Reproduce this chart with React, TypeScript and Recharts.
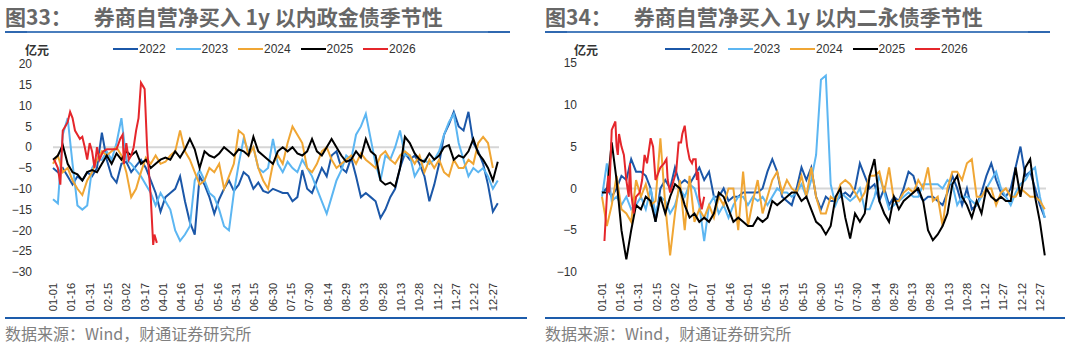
import React from "react";
import { LineChart, Line, XAxis, YAxis, ReferenceLine } from "recharts";

// x axis: day of year, label every 15 days
const tickLabels = [
  "01-01", "01-16", "01-31", "02-15", "03-02", "03-17", "04-01", "04-16", "05-01",
  "05-16", "05-31", "06-15", "06-30", "07-15", "07-30", "08-14", "08-29", "09-13",
  "09-28", "10-13", "10-28", "11-12", "11-27", "12-12", "12-27",
];
const tickDays = tickLabels.map((_, i) => i * 15);

// sample days for 2022-2025 (every 4 days)
const gridDays = Array.from({ length: 92 }, (_, i) => i * 4);

const years = ["2022", "2023", "2024", "2025", "2026"];
const colors: Record<string, string> = {
  "2022": "#1b57a8",
  "2023": "#5cb6f2",
  "2024": "#f0a634",
  "2025": "#000000",
  "2026": "#e5262b",
};

// ---- 图33 政金债 (亿元)
const zjz2022 = [
  -5, -6, -5, -7, -9, -7, -8, -6, -7, -5,
  3.5, -3, -7, -8.5, -4, -3.5, -6, -4.5, -3, -5,
  -8, -11, -15.5, -12, -11, -10, -7, -13, -18, -21,
  -7, -9, -12, -16, -12.5, -10, -8, -10.5, -9, -6,
  -7, -10, -8.5, -10.5, -11, -10, -10.5, -11, -11, -13,
  -12, -5.5, -10, -11, -8, -5, -7, -2, -1, -5,
  -6, -2.5, -7, -12, -11, -12, -13, -17, -15, -12,
  -10, -5, -1.5, -3, -2, -4, -7, -13, -9, -4,
  3, 5.5, 8.5, 5, 4, 8.5, 1, -1, -4, -9,
  -15.5, -13.5,
];
const zjz2023 = [
  -12.5, -13.5, 3, 7, -4, -14, -15, -14, -5, -3,
  -3, -1, -3, 1, 7, -3, -4, -5.5, -7, -9,
  -11, -14, -11, -13, -15, -20, -22.5, -21, -19, -8,
  -5.5, -8, -11, -12, -15, -19, -20, -11, -4, 2,
  -1, 0, -5, -6, -5, 2, -4, -6, -3.5, -5,
  -6, -3, -5, -7, -10, -13, -16, -12, -8, -5.5,
  -2, -3, 3, 5, 8, 2, -4, -8, -2, -3,
  0, 4, -2, -2, -7, -5, -3, -4, -3, -1,
  3, 6, 8, 1, -3, -7, -5, -6, -5, -7,
  -10, -8,
];
const zjz2024 = [
  -4, -2, -6, -5, -8, -10, -11.5, -8, -6, -3,
  -1, -2, -1, 0, -2, -6, -12, -10, -6, -2.5,
  -4, -2, -4, -3.5, -2, -1, 4, -1, -3, -6,
  -9, -8, -5, -6, -4, -10, -7, -4, 4, 3,
  -2, 0, -5, -8, -10, -4, -2, -4, 1, 5,
  3, 1, -5, -6, -4, -1, 0, -3, -5, -4,
  -3, -2, -4, -1.5, -3, -4, -5, -2, -1, -3,
  -4, -2, -1, -2, -4, -2, -6, -3, -5, -3,
  -6, -7, -3, -5, -5, -3, -4, 1, 2.5, 1,
  -5, null,
];
const zjz2025 = [
  -3, -2, 0.5, -4, -6, -6.5, -8, -6, -5.5, -6,
  -4, -2, -4, -1.5, -3, -1, -2, -1, -4, -3,
  -5, -4, -3, -2.5, -3, -1, -2.5, -0.5, 2, -0.5,
  -5, -1, -2, -2.5, -1.5, 0, -1, -2, -0.5, -1,
  -2, 2.5, -1, -2, -3, -4, -1, 0, -1, 0,
  -1.5, -2, -1, 2, -1, -2, 0, 2, 0, -2,
  -3.5, -3, -1, -2.5, 2, -1, -2, -8, -9, -8.5,
  -9.5, -5, 2.5, 1, -1.5, -3, -3.5, -1.5, -3, -2,
  0, 0.5, -3, -2, -2.5, -1, 2, -1.5, -3, -5,
  -8, -3.5,
];
const zjz2026Days = [
  1, 4, 6, 8, 10, 12, 14, 16, 18, 20,
  22, 24, 26, 28, 30, 32, 34, 36, 38, 41,
  44, 48, 52, 55, 57, 58, 60, 62, 64, 66,
  68, 70, 72, 74, 75, 77, 80, 82, 83, 85,
];
const zjz2026 = [
  -3, -5, -9, 4, 5, 6, 8.5, 7, 4, 3,
  2, 2.5, 0, -3, 1, -1, -5, 0, -3, -1,
  -0.5, -0.5, -0.5, 2, 3, -4, 1, -3, -2, 0,
  4, 7, 15.5, 14.5, 14, 0, -12, -23.5, -21, -23,
];

// ---- 图34 二永债 (亿元)
const ey2022 = [
  -0.5, 0, -1, 0, 1.5, 1, 3.5, 2, 2, 1.5,
  0, -4, 0, 1, 0, 2.5, 0.5, 1, 0.5, 1.5,
  2.5, 1, 2, -1, -1, 0, -1.5, -1, -1, -0.5,
  -0.5, -0.5, -0.5, 0, 2, 3.5, 2, -1, -1.5, -2,
  0, 2.5, 1, 2.5, -1, -2.5, -1, -1.5, -1.5, -1,
  -0.5, -1, 0, 3, 1.5, 0, 0.5, -1.5, 0, -2,
  -1, -1.5, 0, 2, 1.5, -0.5, -1.5, -1, -1, -1.5,
  -2, -0.5, 1.5, 0, -2, 0, -2.5, -2, -0.5, 1.5,
  3, 1, -0.5, -1, 0, 2.5, 5, 1.5, 2, 0,
  -2, -3.5,
];
const ey2023 = [
  -1, 3, -1.5, -1, -2, -1, -2.5, -2, -1, -2.5,
  0, -3, -1, -1.5, -3, -2, 0, -1, 0.5, 0,
  -2, -6.3, -2, -1, -3, -2, -3.5, -2, -1, -1,
  -2, -1, -1.5, -1, -2, -1, 0, -0.5, -0.5, -1,
  -0.5, 0.5, -1, 1, 4, 13, 13.5, 0.5, -2, -0.5,
  -1, -1.5, -1, 0, -2.5, -2.5, -1, 1.5, -0.5, -2.5,
  -2, -1.5, -1, -0.5, -1, -1, 0.5, 0.5, 0.5, 0.5,
  0, 1, 0.5, -2, -1, -1, -1.5, -2, -1, 0,
  1, 2, 0, -1, -2, -0.5, 0.5, 1, 2, 2.5,
  -1, -3.5,
];
const ey2024 = [
  -1, -4.5, -2, 1.5, -2.5, -3, -4, 1, -1, 0.5,
  -2, -1.5, 6, -2, -8, -3, 1, -5, 1.5, -4,
  -2.5, -3.5, -2, -3.5, -1, -2, 0, 0, -5, 2,
  -4.5, -1.5, 1, -3, -1, 1, 2, -0.5, 1, 0,
  -0.5, 1.5, -1, 2.5, -1, -3, -3, -1, -1.5, 0.5,
  1, 0.5, -0.5, -1.5, -0.5, 1.5, 1.5, 2, -0.5, 2.5,
  -1.5, -1.5, -0.5, 0, -0.5, 1, 0, 2.5, -1.5, -1,
  -4.5, 0, 2, 2, 1, 3, 3.5, -1, -1, 0,
  0, -2, -0.5, 0, -1, -1, 0, -0.5, -1, -1,
  -1.5, -2.5,
];
const ey2025 = [
  -0.5, -0.5, 5.5, 1, -5, -8.5, -5, -2, -2.5, -1,
  -1.5, -4, -1, -3, -1, 0.5, 0, -2, -3.5, -3,
  -4, -3.5, -4, -3, -0.5, -1, -2.5, -4, -3.5, -4,
  -4.5, -4.5, -3.5, -4, -3.5, -1.5, -2, -1.5, -1, -0.5,
  -0.5, -1.5, -1, -2.5, -4, -4.5, -5.5, -4.5, -1, 0,
  -3.5, -6, -3, -4, -3, 1.5, 3.5, -1.5, -3, -4,
  -1, -2.5, -1.5, -1, -0.5, 0, -1.5, -5, -6.2, -5.5,
  -4.5, -3, 0.5, 1.5, -1, -2, -3.5, -1.5, -3, 0,
  -1, -1.5, -1, -1.5, -1.5, 2.5, -1, 2.5, 3.5, -1,
  -4, -8,
];
const ey2026Days = [
  2, 4, 5, 6, 8, 11, 12, 13, 14, 16,
  18, 20, 22, 23, 24, 26, 28, 31, 33, 35,
  37, 40, 42, 44, 48, 51, 53, 54, 56, 58,
  61, 63, 65, 66, 68, 70, 72, 74, 75, 77,
  78, 79, 80, 82, 84,
];
const ey2026 = [
  -6.3, -1, 1.5, -0.5, 7, 8, 5, 4, 6.5, 5,
  4, 1, -1, 3, -0.5, -3, -1, -0.5, 1, 4,
  3, 6, 5, 1, 2.5, 3, 3.5, 1, -0.5, 0.5,
  2, 5.5, 5.5, 6.5, 7.5, 5, 3.5, 3, 3.5, 3.5,
  1, 2, -1, -2.5, -1,
];

const buildTable = (s22: any[], s23: any[], s24: any[], s25: any[]) =>
  gridDays.map((day, i) => ({ day, y2022: s22[i], y2023: s23[i], y2024: s24[i], y2025: s25[i] }));

const buildRed = (ds: number[], vs: number[]) => ds.map((day, i) => ({ day, v: vs[i] }));

const CJK = '"Noto Sans CJK SC", "Noto Sans", sans-serif';
const NUM = '"Liberation Sans", Arial, sans-serif';

const DateTick = (props: any) => {
  const { x, y, payload } = props;
  const idx = tickDays.indexOf(payload.value);
  return (
    <g transform={`translate(${x},${y})`}>
      <text
        transform="rotate(-90)"
        x={-3}
        y={0}
        dy="0.35em"
        textAnchor="end"
        fontSize={11}
        fill="#333"
        fontFamily={NUM}
      >
        {idx >= 0 ? tickLabels[idx] : ""}
      </text>
    </g>
  );
};

interface PanelProps {
  left: number;
  fig: string;
  title: string;
  table: any[];
  red: any[];
  domain: [number, number];
  yTicks: number[];
  yAxisWidth: number;
  marginRight: number;
  top: number;
  tickGap: number;
  legendX: number;
}

function Panel({ left, fig, title, table, red, domain, yTicks, yAxisWidth, marginRight, top, tickGap, legendX }: PanelProps) {
  return (
    <div style={{ position: "absolute", left, top: 0, width: 540, height: 350 }}>
      <div style={{ position: "absolute", left: 5, top: 2, fontFamily: CJK, fontSize: 21, fontWeight: 700, color: "#676767", whiteSpace: "nowrap", lineHeight: "28px" }}>
        <span>{fig}</span>
        <span style={{ marginLeft: 22 }}>{title}</span>
      </div>
      <div style={{ position: "absolute", left: 5, top: 31, width: 505, height: 1.5, background: "#4a7ebd" }} />
      <div style={{ position: "absolute", left: 5, top: 30.5, width: 22, height: 2.5, background: "#2f68b0" }} />
      <div style={{ position: "absolute", left: 488, top: 30.5, width: 22, height: 2.5, background: "#2f68b0" }} />

      <div style={{ position: "absolute", left: yAxisWidth - 28, top: 41, fontFamily: CJK, fontSize: 12, fontWeight: 700, color: "#333" }}>亿元</div>

      <div style={{ position: "absolute", left: legendX, top: 42, display: "flex", alignItems: "center", fontFamily: NUM, fontSize: 12, color: "#333" }}>
        {years.map((yr) => (
          <div key={yr} style={{ display: "flex", alignItems: "center", width: 62.5 }}>
            <div style={{ width: 25, height: 2, background: colors[yr], marginRight: 1 }} />
            <span>{yr}</span>
          </div>
        ))}
      </div>

      <div style={{ position: "absolute", left: 0, top: 0 }}>
        <LineChart width={540} height={350} data={table} margin={{ top, right: marginRight, bottom: 0, left: 0 }}>
          <XAxis
            dataKey="day"
            type="number"
            domain={[0, 365]}
            ticks={tickDays}
            interval={0}
            axisLine={false}
            tickLine={false}
            height={78}
            tick={<DateTick />}
            allowDuplicatedCategory={false}
          />
          <YAxis
            type="number"
            domain={domain}
            ticks={yTicks}
            interval={0}
            axisLine={false}
            tickLine={false}
            width={yAxisWidth}
            tickMargin={tickGap}
            tick={{ fontSize: 12, fill: "#333", fontFamily: NUM }}
            tickFormatter={(v: number) => (v < 0 ? `\u2212${-v}` : `${v}`)}
          />
          <ReferenceLine y={0} stroke="#d6d6d6" strokeWidth={2} />
          {years.slice(0, 4).map((yr) => (
            <Line
              key={yr}
              type="linear"
              dataKey={`y${yr}`}
              stroke={colors[yr]}
              strokeWidth={2}
              dot={false}
              isAnimationActive={false}
            />
          ))}
          <Line
            data={red}
            type="linear"
            dataKey="v"
            stroke={colors["2026"]}
            strokeWidth={2}
            dot={false}
            isAnimationActive={false}
          />
        </LineChart>
      </div>

      <div style={{ position: "absolute", left: 5, top: 317, width: left === 0 ? 522 : 520, height: 2, background: "#1d5cab" }} />
      <div style={{ position: "absolute", left: 5, top: 321, fontFamily: CJK, fontSize: 16, color: "#808080", whiteSpace: "nowrap" }}>
        数据来源：Wind，财通证券研究所
      </div>
    </div>
  );
}

export default function App() {
  const zjzTable = buildTable(zjz2022, zjz2023, zjz2024, zjz2025);
  const eyTable = buildTable(ey2022, ey2023, ey2024, ey2025);
  return (
    <div style={{ position: "absolute", left: 0, top: 0, width: 1080, height: 350, background: "#fff", overflow: "hidden" }}>
      <Panel
        left={0}
        fig="图33："
        title="券商自营净买入 1y 以内政金债季节性"
        table={zjzTable}
        red={buildRed(zjz2026Days, zjz2026)}
        domain={[-30, 20]}
        yTicks={[-30, -25, -20, -15, -10, -5, 0, 5, 10, 15, 20]}
        yAxisWidth={53}
        marginRight={41}
        top={64}
        tickGap={15}
        legendX={113}
      />
      <Panel
        left={540}
        fig="图34："
        title="券商自营净买入 1y 以内二永债季节性"
        table={eyTable}
        red={buildRed(ey2026Days, ey2026)}
        domain={[-10, 15]}
        yTicks={[-10, -5, 0, 5, 10, 15]}
        yAxisWidth={62}
        marginRight={34}
        top={63}
        tickGap={19}
        legendX={125}
      />
    </div>
  );
}
